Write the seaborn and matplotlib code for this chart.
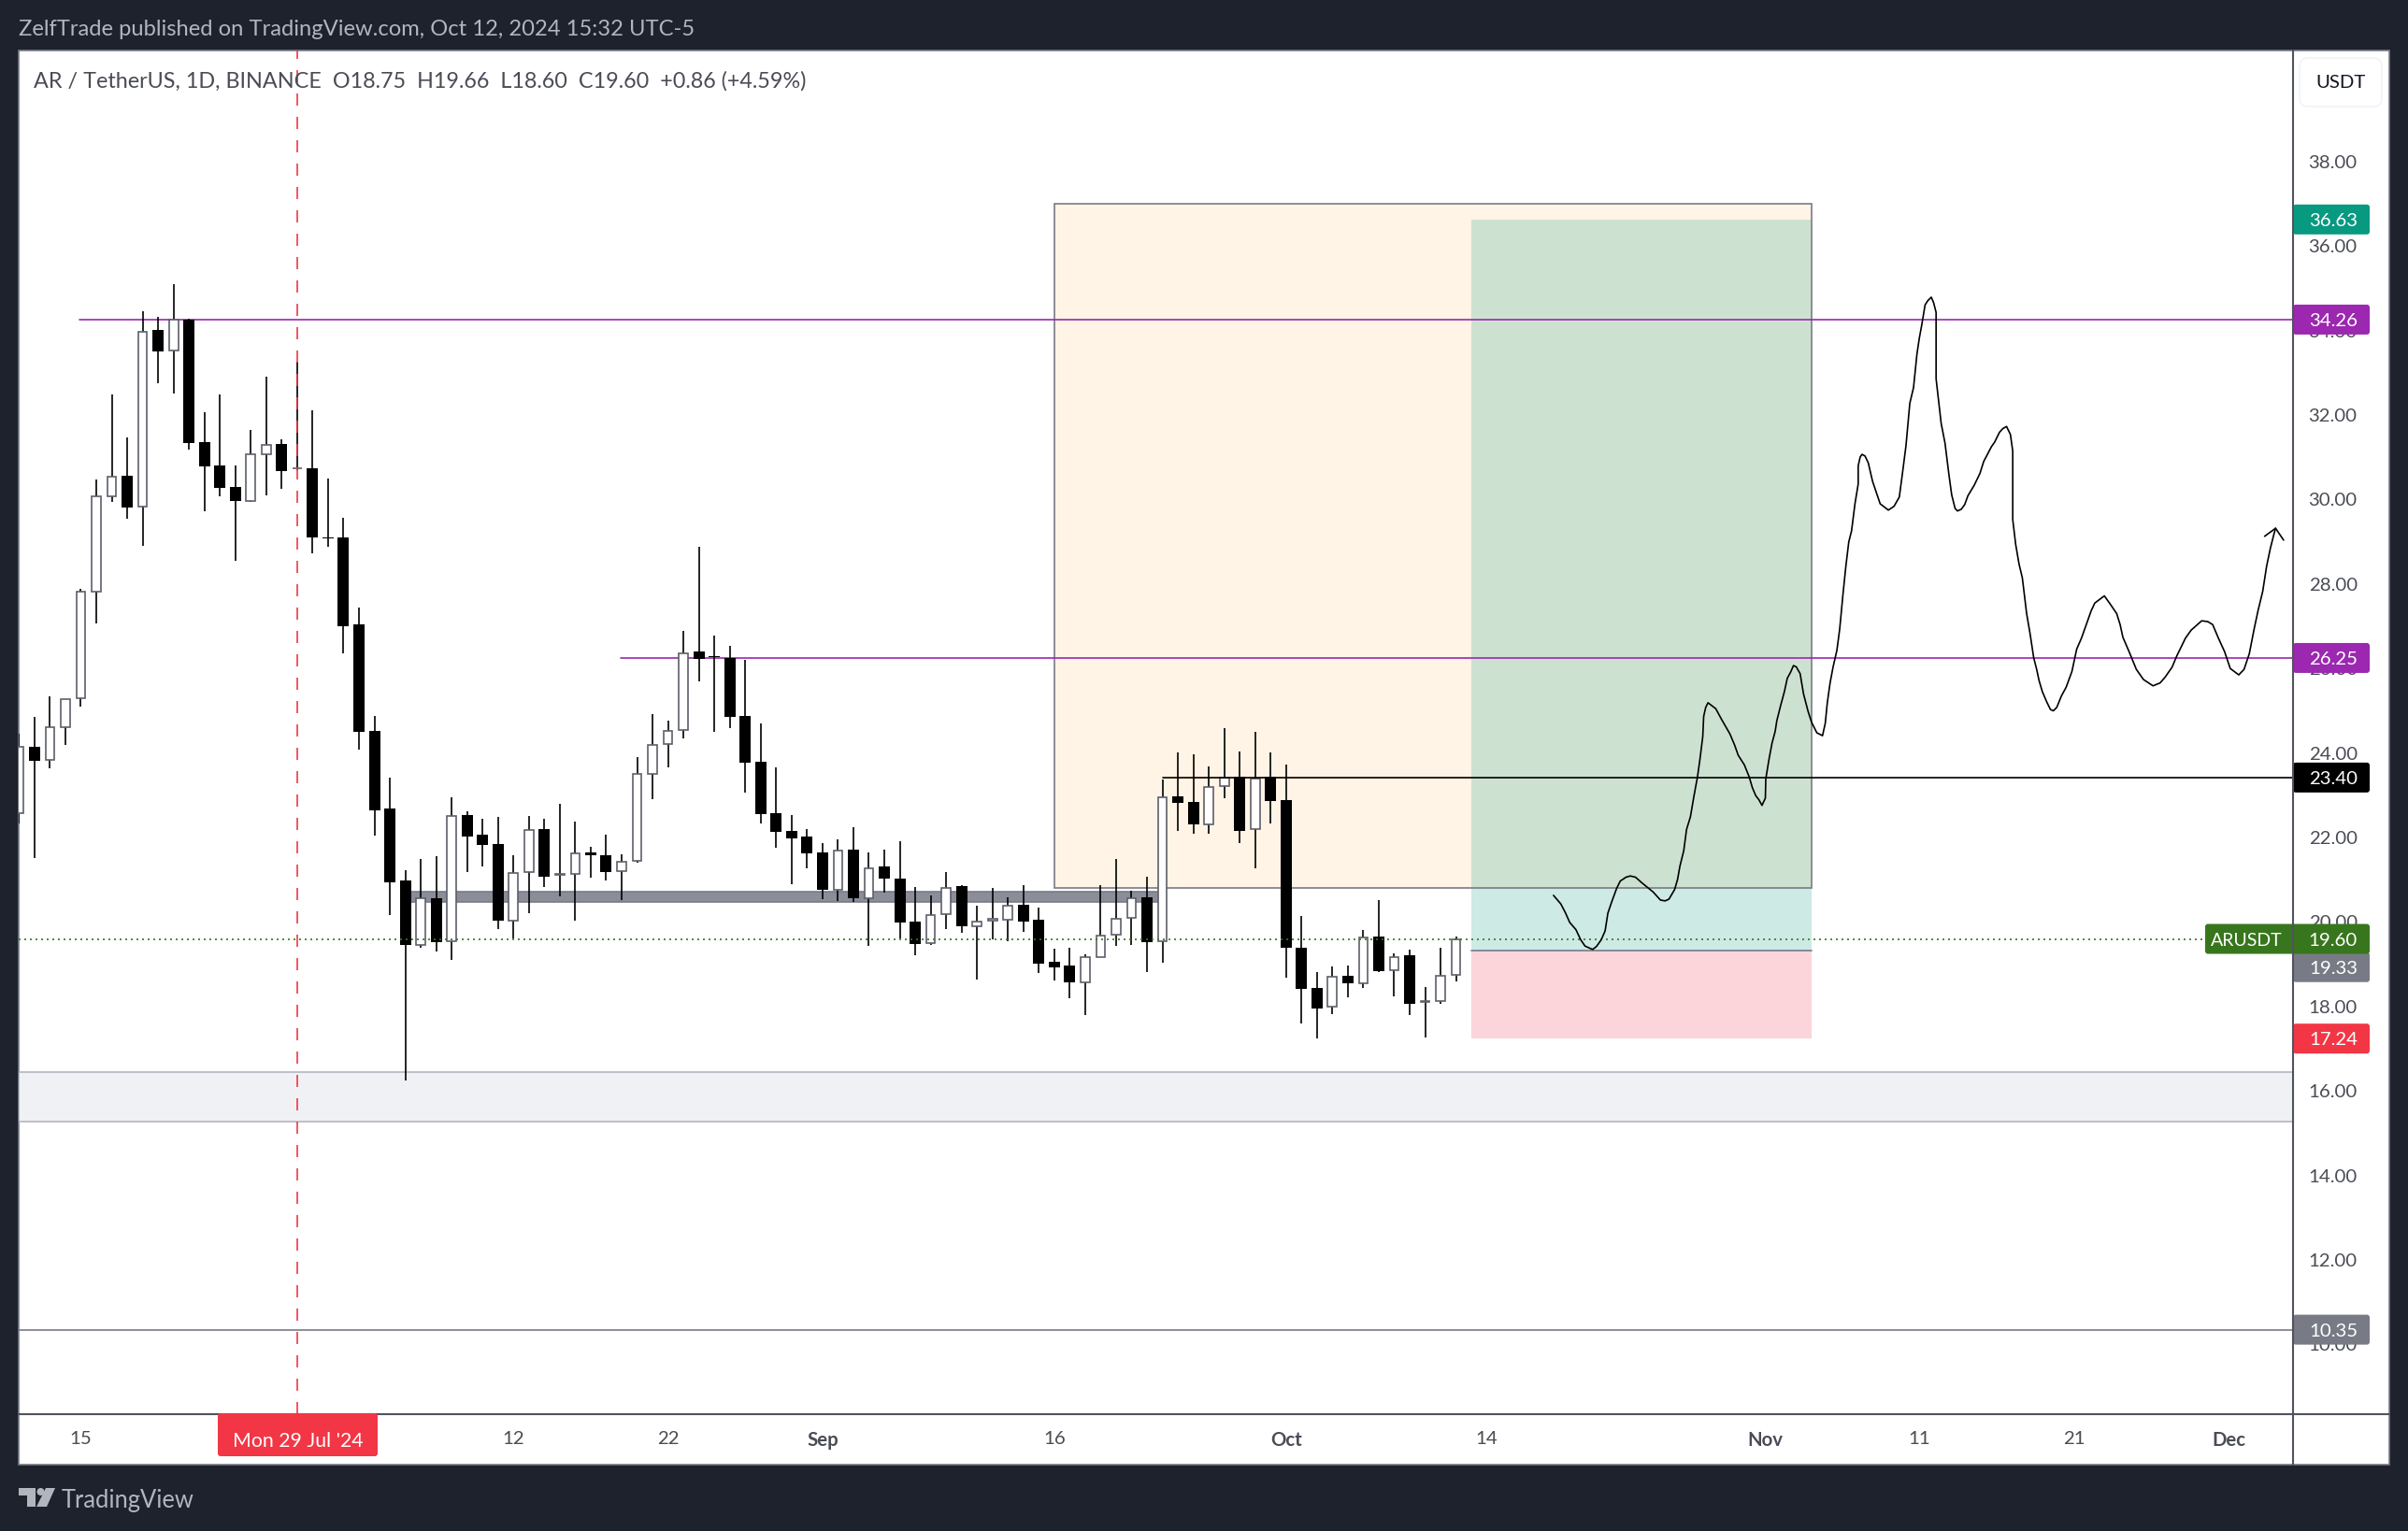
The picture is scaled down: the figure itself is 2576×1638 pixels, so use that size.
"""
AR / TetherUS daily candles with position tool and drawn path, TradingView look.
"""
import numpy as np
import pandas as pd
import matplotlib
matplotlib.use("Agg")
import matplotlib.pyplot as plt
from matplotlib.patches import Rectangle, FancyBboxPatch, Polygon, Circle
import seaborn as sns

# ── Candle data (index 0 = 11 Jul 2024) ────────────────────────────────────
opens = [22.58, 24.15, 23.83, 24.61, 25.29, 27.81, 30.07, 30.56, 29.83, 34.02, 33.52, 34.26,
         31.36, 30.80, 30.30, 29.97, 31.08, 31.31, 30.73, 30.74, 29.11, 29.10, 27.04, 24.52,
         22.69, 20.99, 19.45, 20.57, 19.54, 22.54, 22.07, 21.84, 20.04, 21.18, 22.20, 21.11,
         21.13, 21.65, 21.58, 21.20, 21.45, 23.50, 24.22, 24.54, 26.41, 26.29, 26.25, 24.88,
         23.79, 22.58, 22.16, 22.02, 21.65, 20.77, 21.71, 20.57, 21.31, 21.03, 20.01, 19.49,
         20.18, 20.85, 19.91, 20.04, 20.05, 20.41, 20.05, 19.06, 18.97, 18.58, 19.18, 19.69,
         20.09, 20.58, 19.54, 22.97, 22.84, 22.32, 23.21, 23.44, 22.19, 23.44, 22.88, 19.39,
         18.44, 17.99, 18.73, 18.56, 19.65, 18.85, 19.21, 18.11, 18.12, 18.75]
highs = [24.46, 24.86, 25.34, 25.28, 27.88, 30.47, 32.49, 31.46, 34.46, 34.32, 35.10, 34.28,
         32.07, 32.49, 30.80, 31.64, 32.91, 31.43, 33.26, 32.11, 30.50, 29.57, 27.44, 24.87,
         23.41, 21.23, 21.49, 21.56, 22.95, 22.62, 22.45, 22.49, 21.58, 22.51, 22.45, 22.80,
         22.38, 21.79, 22.07, 21.61, 23.91, 24.93, 24.77, 26.89, 28.89, 26.78, 26.54, 26.21,
         24.71, 23.67, 22.54, 22.20, 21.87, 21.96, 22.24, 21.65, 21.71, 21.91, 20.83, 20.63,
         21.18, 20.87, 20.38, 20.81, 20.58, 20.87, 20.34, 19.37, 19.39, 19.23, 20.87, 21.49,
         20.74, 21.07, 23.37, 24.01, 23.97, 23.68, 24.59, 24.04, 24.50, 24.01, 23.73, 20.14,
         18.81, 18.95, 18.97, 19.81, 20.52, 19.26, 19.34, 18.46, 19.39, 19.66]
lows = [22.33, 21.51, 23.63, 24.20, 25.09, 27.07, 29.95, 29.55, 28.90, 32.76, 32.52, 31.18,
        29.72, 30.07, 28.54, 29.95, 30.09, 30.26, 30.70, 28.72, 28.89, 26.36, 24.09, 22.04,
        20.16, 16.25, 19.40, 19.30, 19.10, 21.19, 21.32, 19.84, 19.62, 20.21, 20.83, 20.60,
        20.03, 21.05, 20.99, 20.52, 21.40, 22.91, 23.67, 24.35, 25.70, 24.50, 24.60, 23.06,
        22.34, 21.76, 20.90, 21.28, 20.54, 20.50, 20.47, 19.43, 20.69, 19.61, 19.21, 19.46,
        19.83, 19.74, 18.64, 19.59, 19.54, 19.77, 18.79, 18.61, 18.19, 17.80, 19.18, 19.43,
        19.46, 18.81, 19.04, 22.15, 22.09, 22.09, 22.93, 21.87, 21.27, 22.33, 18.68, 17.60,
        17.24, 17.82, 18.22, 18.44, 18.81, 18.24, 17.80, 17.27, 18.06, 18.60]
closes = [24.14, 23.82, 24.62, 25.28, 27.81, 30.07, 30.55, 29.81, 33.98, 33.51, 34.26, 31.34,
          30.78, 30.27, 29.97, 31.08, 31.29, 30.68, 30.75, 29.10, 29.08, 27.01, 24.50, 22.64,
          20.94, 19.45, 20.56, 19.53, 22.52, 22.02, 21.83, 20.03, 21.15, 22.18, 21.07, 21.13,
          21.63, 21.57, 21.19, 21.43, 23.50, 24.20, 24.53, 26.37, 26.23, 26.26, 24.86, 23.78,
          22.56, 22.13, 21.98, 21.62, 20.76, 21.70, 20.56, 21.28, 21.03, 19.99, 19.48, 20.16,
          20.81, 19.90, 20.02, 20.07, 20.39, 20.01, 19.01, 18.92, 18.57, 19.18, 19.68, 20.08,
          20.57, 19.52, 22.96, 22.82, 22.31, 23.20, 23.42, 22.15, 23.40, 22.86, 19.39, 18.42,
          17.95, 18.71, 18.55, 19.64, 18.84, 19.18, 18.06, 18.14, 18.73, 19.60]

# ── Drawn path (candle index, price) ───────────────────────────────────────
path_x = [99.31, 99.78, 100.08, 100.36, 100.76, 101.07, 101.35, 101.84, 102.09, 102.40, 102.65, 102.83,
          103.08, 103.39, 103.63, 104.00, 104.28, 104.62, 105.02, 105.39, 105.76, 106.23, 106.53, 106.78,
          107.15, 107.34, 107.49, 107.74, 107.92, 108.17, 108.39, 108.63, 108.79, 108.97, 109.03, 109.16,
          109.31, 109.81, 110.18, 110.73, 111.04, 111.26, 111.66, 111.97, 112.18, 112.40, 112.61, 112.80,
          113.02, 113.05, 113.26, 113.45, 113.66, 113.76, 114.00, 114.25, 114.44, 114.65, 114.84, 115.02,
          115.27, 115.49, 115.79, 116.01, 116.35, 116.72, 116.90, 117.03, 117.21, 117.40, 117.65, 117.83,
          118.05, 118.23, 118.42, 118.60, 118.82, 119.03, 119.03, 119.16, 119.28, 119.47, 119.68, 119.96,
          120.21, 120.45, 120.98, 121.35, 121.69, 121.90, 122.12, 122.37, 122.61, 122.83, 122.98, 123.14,
          123.36, 123.54, 123.76, 123.91, 124.07, 124.07, 124.22, 124.40, 124.65, 124.90, 125.08, 125.30,
          125.45, 125.70, 125.92, 126.13, 126.54, 126.91, 127.15, 127.65, 127.86, 128.17, 128.39, 128.63,
          128.88, 129.03, 129.03, 129.22, 129.44, 129.65, 129.93, 130.15, 130.39, 130.58, 130.73, 130.95,
          131.23, 131.47, 131.66, 131.88, 132.18, 132.49, 132.86, 133.17, 133.48, 133.79, 134.10, 134.34,
          134.71, 134.96, 135.33, 135.76, 135.98, 136.16, 136.56, 137.03, 137.49, 138.11, 138.57, 138.88,
          139.34, 139.65, 140.21, 140.58, 141.26, 141.66, 141.97, 142.34, 142.74, 143.11, 143.66, 144.00,
          144.34, 144.65, 144.90, 145.21, 145.46, 145.70, 145.92, 146.04]
path_y = [20.63, 20.43, 20.22, 19.99, 19.82, 19.58, 19.43, 19.35, 19.42, 19.58, 19.79, 20.21,
          20.48, 20.79, 20.97, 21.06, 21.09, 21.06, 20.93, 20.82, 20.71, 20.52, 20.50, 20.54,
          20.77, 21.01, 21.32, 21.69, 22.19, 22.49, 22.96, 23.44, 23.86, 24.39, 24.87, 25.08,
          25.19, 25.05, 24.80, 24.45, 24.18, 23.95, 23.72, 23.44, 23.18, 22.99, 22.89, 22.76,
          22.93, 23.39, 23.86, 24.23, 24.52, 24.76, 25.11, 25.45, 25.77, 25.91, 26.07, 26.04,
          25.88, 25.40, 24.98, 24.73, 24.48, 24.41, 24.71, 25.19, 25.66, 26.03, 26.43, 26.93,
          27.78, 28.42, 29.00, 29.26, 29.90, 30.37, 30.80, 31.01, 31.07, 31.03, 30.87, 30.43,
          30.16, 29.90, 29.75, 29.84, 30.06, 30.64, 31.27, 32.28, 32.65, 33.44, 33.81, 34.13,
          34.61, 34.71, 34.79, 34.66, 34.43, 32.86, 32.38, 31.80, 31.33, 30.59, 30.11, 29.79,
          29.73, 29.77, 29.88, 30.09, 30.34, 30.62, 30.90, 31.25, 31.36, 31.59, 31.68, 31.73,
          31.54, 31.15, 29.53, 28.94, 28.47, 28.15, 27.30, 26.83, 26.25, 25.98, 25.72, 25.45,
          25.21, 25.03, 25.00, 25.08, 25.35, 25.56, 25.93, 26.46, 26.72, 27.04, 27.36, 27.55,
          27.65, 27.72, 27.53, 27.30, 27.04, 26.74, 26.40, 25.98, 25.74, 25.59, 25.66, 25.79,
          26.03, 26.30, 26.72, 26.91, 27.13, 27.11, 27.04, 26.72, 26.40, 26.00, 25.85, 25.98,
          26.35, 26.93, 27.36, 27.83, 28.42, 28.84, 29.16, 29.32]
arrow_x = [145.33, 146.04, 146.56]
arrow_y = [29.13, 29.32, 29.04]

# ── Levels and axis labels ─────────────────────────────────────────────────
y_ticks = [38, 36, 34, 32, 30, 28, 26, 24, 22, 20, 18, 16, 14, 12, 10]
x_tick_pos = [4, 32, 42, 52, 67, 82, 95, 113, 123, 133, 143]
x_tick_labels = ["15", "12", "22", "Sep", "16", "Oct", "14", "Nov", "11", "21", "Dec"]
month_labels = ["Sep", "Oct", "Nov", "Dec"]
target, entry, stop = 36.63, 19.33, 17.24
box_top, box_bottom = 37.01, 20.81
res_high, res_low = 34.26, 26.25
black_level = 23.42
last_price = 19.60
low_level = 10.35
zone_top, zone_bottom = 16.45, 15.28
band_top, band_bottom = 20.72, 20.47

# ── Style configuration ────────────────────────────────────────────────────
COLORS = {
    "bg": "#1E222D", "axis": "#50535E", "border": "#787B86", "text": "#4A4C55",
    "head": "#B2B5BE", "purple": "#9C27B0", "green": "#38761D", "teal": "#089981",
    "red": "#F23645", "candle": "#5D606B", "orange": "#FFF4E5", "stop": "#FBD5DA",
}
W, H = 2576, 1638
LEFT, RIGHT, TOP, BOTTOM = 20, 2453, 54, 1513
LW = 1.2

sns.set_theme(style="white")
plt.rcParams["font.family"] = ["Lato", "DejaVu Sans"]

fig = plt.figure(figsize=(W / 100, H / 100), dpi=100, facecolor=COLORS["bg"])

# Panel behind the chart, overlay above it; both in image pixels
under = fig.add_axes([0, 0, 1, 1], zorder=0)
pix = fig.add_axes([0, 0, 1, 1], zorder=5)
for a in (under, pix):
    a.set_xlim(0, W)
    a.set_ylim(H, 0)
    a.axis("off")
under.add_patch(Rectangle((LEFT, TOP), 2556 - LEFT, 1567 - TOP, facecolor="white",
                          edgecolor=COLORS["border"], linewidth=LW))

ax = fig.add_axes([LEFT / W, (H - BOTTOM) / H, (RIGHT - LEFT) / W, (BOTTOM - TOP) / H], zorder=2)
ax.patch.set_alpha(0)
for s in ax.spines.values():
    s.set_visible(False)

df = pd.DataFrame({"idx": np.arange(len(opens)), "open": opens, "high": highs,
                   "low": lows, "close": closes})
df["base"] = df[["open", "close"]].min(axis=1)
df["body"] = (df["close"] - df["open"]).abs()
up = df[df["close"] >= df["open"]]
down = df[df["close"] < df["open"]]

# ── Position tool, zones, levels ───────────────────────────────────────────
ax.add_patch(Rectangle((67, box_bottom), 116 - 67, box_top - box_bottom, facecolor=COLORS["orange"],
                       edgecolor="none", zorder=1))
ax.add_patch(Rectangle((94, entry), 116 - 94, target - entry, facecolor=COLORS["teal"], alpha=0.2,
                       edgecolor="none", zorder=1.1))
ax.add_patch(Rectangle((94, stop), 116 - 94, entry - stop, facecolor=COLORS["stop"],
                       edgecolor="none", zorder=1.1))
ax.add_patch(Rectangle((67, box_bottom), 116 - 67, box_top - box_bottom, facecolor="none",
                       edgecolor=COLORS["border"], linewidth=LW, zorder=1.2))
ax.plot([94, 116], [entry, entry], color=COLORS["border"], lw=LW, zorder=1.2)

ax.axhspan(zone_bottom, zone_top, facecolor="#F0F1F4", edgecolor="#B2B5BE", linewidth=LW, zorder=1)
ax.axhline(low_level, color=COLORS["border"], lw=LW, zorder=1.3)
ax.add_patch(Rectangle((25, band_bottom), 74 - 25, band_top - band_bottom, facecolor="#8B8D98",
                       edgecolor=COLORS["border"], linewidth=LW, zorder=1.3))
ax.plot([3.9, 147.2], [res_high, res_high], color=COLORS["purple"], lw=LW, zorder=1.4)
ax.plot([38.94, 147.2], [res_low, res_low], color=COLORS["purple"], lw=LW, zorder=1.4)

# ── Candles ────────────────────────────────────────────────────────────────
ax.vlines(df["idx"], df["low"], df["high"], color="black", lw=LW, zorder=3)
sns.barplot(data=down, x="idx", y="body", bottom=down["base"], native_scale=True, width=0.726,
            color="black", linewidth=0, saturation=1, errorbar=None, ax=ax, zorder=4)
sns.barplot(data=up, x="idx", y="body", bottom=up["base"], native_scale=True, width=0.59,
            color="white", edgecolor=COLORS["candle"], linewidth=LW, saturation=1,
            errorbar=None, ax=ax, zorder=4)

# ── Lines above the candles ────────────────────────────────────────────────
ax.plot([74, 147.2], [black_level, black_level], color="black", lw=LW, zorder=5)
ax.axhline(last_price, xmax=(2359 - LEFT) / (RIGHT - LEFT), color=COLORS["green"], lw=LW,
           linestyle=(0, (1.2, 2.4)), zorder=5)
ax.axvline(18, color=COLORS["red"], lw=LW, linestyle=(0, (7.8, 7.2)), zorder=5)
sns.lineplot(x=path_x, y=path_y, sort=False, estimator=None, color="black", lw=LW, ax=ax, zorder=6)
sns.lineplot(x=arrow_x, y=arrow_y, sort=False, estimator=None, color="black", lw=LW, ax=ax, zorder=6)

ax.set_xlim(-0.02, 147.17)
ax.set_ylim(8.35, 40.63)
ax.set_xlabel("")
ax.set_ylabel("")
ax.yaxis.tick_right()
ax.set_yticks(y_ticks, [f"{v:.2f}" for v in y_ticks])
ax.set_xticks(x_tick_pos, x_tick_labels)
ax.tick_params(axis="y", length=0, pad=12, labelsize=14.7, labelcolor=COLORS["text"])
ax.tick_params(axis="x", length=0, pad=13, labelsize=14.7, labelcolor=COLORS["text"])
for lab in ax.get_xticklabels():
    if lab.get_text() in month_labels:
        lab.set_fontweight("bold")


def price_px(p):
    return H - ax.transData.transform((0, p))[1]


def badge(p, text, color, dy=0, x0=RIGHT):
    yc = price_px(p) + dy
    pix.add_patch(FancyBboxPatch((x0, yc - 16), 2535 - x0, 32, boxstyle="round,pad=0,rounding_size=3",
                                 facecolor=color, edgecolor="none", zorder=2))
    pix.text(2496, yc, text, color="white", fontsize=14.7, ha="center", va="center_baseline", zorder=3)


# ── Price badges ───────────────────────────────────────────────────────────
badge(target, "36.63", COLORS["teal"])
badge(res_high, "34.26", COLORS["purple"])
badge(res_low, "26.25", COLORS["purple"])
badge(black_level, "23.40", "#000000")
badge(entry, "19.33", COLORS["border"], dy=18)
badge(last_price, "19.60", COLORS["green"], x0=2359)
pix.text(2403, price_px(last_price), "ARUSDT", color="white", fontsize=14, ha="center",
         va="center_baseline", zorder=3)
badge(stop, "17.24", COLORS["red"])
badge(low_level, "10.35", COLORS["border"])

# ── Axis lines, date tag, currency button ──────────────────────────────────
pix.plot([RIGHT, RIGHT], [TOP, 1567], color=COLORS["axis"], lw=1.5, zorder=4)
pix.plot([LEFT, 2556], [BOTTOM, BOTTOM], color=COLORS["axis"], lw=1.5, zorder=1)
pix.add_patch(FancyBboxPatch((233, 1512), 171, 46, boxstyle="round,pad=0,rounding_size=3",
                             facecolor=COLORS["red"], edgecolor="none", zorder=2))
pix.text(318.5, 1540, "Mon 29 Jul '24", color="white", fontsize=15.3, ha="center",
         va="center_baseline", zorder=3)
pix.add_patch(FancyBboxPatch((2460, 62), 88, 52, boxstyle="round,pad=0,rounding_size=9",
                             facecolor="white", edgecolor="#F0F3FA", linewidth=LW, zorder=2))
pix.text(2504, 87, "USDT", color="#131722", fontsize=14.7, ha="center", va="center_baseline", zorder=3)

# ── Header, legend, footer ─────────────────────────────────────────────────
pix.text(20, 30, "ZelfTrade published on TradingView.com, Oct 12, 2024 15:32 UTC-5", color=COLORS["head"],
         fontsize=17.1, ha="left", va="center_baseline")
pix.text(36, 85, "AR / TetherUS, 1D, BINANCE  O18.75  H19.66  L18.60  C19.60  +0.86 (+4.59%)",
         color=COLORS["text"], fontsize=16.8, ha="left", va="center_baseline")
pix.add_patch(Polygon([(20, 1592), (38, 1592), (38, 1612), (29, 1612), (29, 1600), (20, 1600)],
                      facecolor=COLORS["head"], edgecolor="none"))
pix.add_patch(Circle((43.5, 1596), 4, facecolor=COLORS["head"], edgecolor="none"))
pix.add_patch(Polygon([(49, 1592), (59, 1592), (50, 1612), (39, 1612)], facecolor=COLORS["head"],
                      edgecolor="none"))
pix.text(66, 1603, "TradingView", color=COLORS["head"], fontsize=18.4, ha="left", va="center_baseline")

fig.savefig("out.png", dpi=100, facecolor=fig.get_facecolor())
